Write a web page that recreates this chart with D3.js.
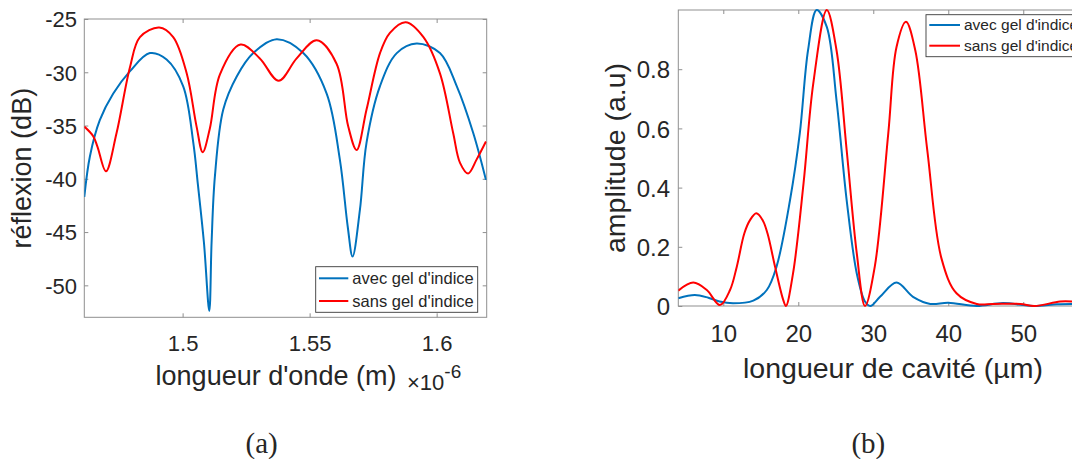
<!DOCTYPE html>
<html><head><meta charset="utf-8">
<script src="https://cdn.jsdelivr.net/npm/d3@7"></script>
<style>
html,body{margin:0;padding:0;background:#fff;}
svg{display:block;}
text{font-family:"Liberation Sans",Arial,sans-serif;fill:#262626;}
</style></head>
<body>
<svg id="chart" width="1072" height="459"></svg>
<script>
// ---------- Panel (a) data : wavelength (×10^-6 m) vs reflexion (dB)
const waveAvec = [1.4613,1.4635,1.4674,1.4727,1.4793,1.4871,1.4937,1.5002,1.5042,1.5060,1.5084,1.5105,1.5114,1.5127,1.5160,1.5213,1.5278,1.5370,1.5475,1.5567,1.5619,1.5650,1.5669,1.5698,1.5724,1.5777,1.5843,1.5921,1.6013,1.6079,1.6144,1.6194];
const reflAvec = [-41.7,-37.9,-34.5,-32.0,-29.9,-28.2,-28.8,-31.3,-36.6,-40.5,-46.0,-52.4,-46.0,-39.8,-33.5,-30.4,-28.2,-26.9,-28.2,-32.0,-38.2,-44.5,-47.3,-42.9,-36.6,-31.3,-28.2,-27.3,-28.2,-31.3,-35.7,-40.1];
const waveSans = [1.4613,1.4648,1.4665,1.4698,1.4740,1.4793,1.4832,1.4908,1.4963,1.5016,1.5055,1.5079,1.5107,1.5147,1.5228,1.5304,1.5378,1.5449,1.5528,1.5606,1.5652,1.5685,1.5724,1.5777,1.5816,1.5878,1.5948,1.6013,1.6065,1.6092,1.6124,1.6157,1.6194];
const reflSans = [-35.1,-36.0,-37.0,-39.3,-35.7,-29.5,-26.7,-25.8,-26.7,-30.1,-35.1,-37.5,-35.3,-30.2,-27.4,-28.7,-30.8,-28.7,-27.0,-29.2,-35.1,-37.3,-33.5,-28.2,-26.3,-25.3,-26.7,-30.1,-35.7,-38.5,-39.5,-38.2,-36.5];
const xTicksA = [1.5,1.55,1.6];
const yTicksA = [-50,-45,-40,-35,-30,-25];

// ---------- Panel (b) data : cavity length (µm) vs amplitude (a.u)
const lenAvec = [4,6.2,8,9.5,11.3,14,15.8,17.1,18.9,20.2,21.3,22.45,23.8,25.1,26.45,27.8,28.9,29.6,30.9,33.1,35.3,37.6,40,43.8,47.3,51.3,54.5,56.5];
const ampAvec = [0.026,0.037,0.028,0.015,0.009,0.018,0.054,0.133,0.358,0.583,0.864,1.0,0.943,0.695,0.358,0.11,0.015,0,0.031,0.079,0.031,0.007,0.011,0,0.010,0,0.006,0.007];
const lenSans = [4,6.0,7.8,9.55,10.9,11.8,12.8,13.56,14.4,15.25,15.9,16.9,18.0,18.35,19.3,20.7,22,23.8,25.1,26.45,27.8,28.9,30.2,32,33.1,34.36,35.6,37.2,39.1,41.1,43.8,46,49.6,51.5,54.9,56.5];
const ampSans = [0.052,0.079,0.054,0.003,0.054,0.133,0.245,0.29,0.313,0.29,0.245,0.133,0.02,0,0.11,0.414,0.752,1.0,0.864,0.527,0.178,0,0.133,0.583,0.875,0.96,0.864,0.527,0.16,0.043,0.007,0.007,0.007,0,0.015,0.015];
const xTicksB = [10,20,30,40,50];
const yTicksB = [0,0.2,0.4,0.6,0.8];

const seriesNames = ["avec gel d'indice","sans gel d'indice"];
const blue = "#0072BD", red = "#FF0000";
const axisCol = "#8f8f8f";

const svg = d3.select("#chart");
svg.append("rect").attr("width",1072).attr("height",459).attr("fill","#fff");

function panel(cfg){
  const g = svg.append("g");
  const x = d3.scaleLinear().domain(cfg.xDom).range([cfg.L,cfg.R]);
  const y = d3.scaleLinear().domain(cfg.yDom).range([cfg.B,cfg.T]);
  const id = "clip"+cfg.name;
  svg.append("clipPath").attr("id",id).append("rect")
    .attr("x",cfg.L).attr("y",cfg.T-2).attr("width",cfg.R-cfg.L).attr("height",cfg.B-cfg.T+4);
  // box
  g.append("rect").attr("x",cfg.L).attr("y",cfg.T).attr("width",cfg.R-cfg.L).attr("height",cfg.B-cfg.T)
    .attr("fill","none").attr("stroke",axisCol).attr("stroke-width",1);
  // axes with inward ticks
  const tl = 4;
  const ax = (axis)=>axis.tickSizeInner(-tl).tickSizeOuter(0).tickPadding(0);
  const bottom = g.append("g").attr("transform",`translate(0,${cfg.B})`)
    .call(ax(d3.axisBottom(x)).tickValues(cfg.xTicks).tickFormat(d=>cfg.xFmt(d)));
  const top = g.append("g").attr("transform",`translate(0,${cfg.T})`)
    .call(ax(d3.axisTop(x)).tickValues(cfg.xTicks).tickFormat(""));
  const left = g.append("g").attr("transform",`translate(${cfg.L},0)`)
    .call(ax(d3.axisLeft(y)).tickValues(cfg.yTicks).tickFormat(d=>cfg.yFmt(d)));
  const right = g.append("g").attr("transform",`translate(${cfg.R},0)`)
    .call(ax(d3.axisRight(y)).tickValues(cfg.yTicks).tickFormat(""));
  [bottom,top,left,right].forEach(a=>{
    a.select(".domain").remove();
    a.selectAll("line").attr("stroke",axisCol);
  });
  bottom.selectAll("text").attr("font-size",cfg.tickFs).attr("fill","#262626")
    .attr("y",cfg.xTickY-cfg.B).attr("dy",0).style("font-family","Liberation Sans, Arial, sans-serif");
  left.selectAll("text").attr("font-size",cfg.tickFs).attr("fill","#262626")
    .attr("x",cfg.yTickX-cfg.L).attr("dy","0.36em").style("font-family","Liberation Sans, Arial, sans-serif");
  // curves
  const line = d3.line().x(d=>x(d[0])).y(d=>y(d[1])).curve(d3.curveCatmullRom.alpha(0.5));
  const plot = g.append("g").attr("clip-path",`url(#${id})`);
  cfg.series.forEach(s=>{
    plot.append("path").datum(d3.zip(s.x,s.y)).attr("d",line)
      .attr("fill","none").attr("stroke",s.color).attr("stroke-width",2).attr("stroke-linejoin","round");
  });
  // legend
  const lg = cfg.legend;
  g.append("rect").attr("x",lg.x).attr("y",lg.y).attr("width",lg.w).attr("height",lg.h)
    .attr("fill","#fff").attr("stroke","#3a3a3a").attr("stroke-width",0.9);
  cfg.series.forEach((s,i)=>{
    const yy = lg.y + lg.row0 + i*lg.step;
    g.append("line").attr("x1",lg.x+lg.l0).attr("x2",lg.x+lg.l1).attr("y1",yy).attr("y2",yy)
      .attr("stroke",s.color).attr("stroke-width",2);
    g.append("text").attr("x",lg.x+lg.tx).attr("y",yy).attr("dy","0.35em")
      .attr("font-size",lg.fs).text(seriesNames[i]);
  });
  // axis labels
  g.append("text").attr("x",cfg.xLabX).attr("y",cfg.xLabY).attr("text-anchor","middle")
    .attr("font-size",cfg.labFs).text(cfg.xLab);
  g.append("text").attr("transform",`translate(${cfg.yLabX},${(cfg.T+cfg.B)/2}) rotate(-90)`)
    .attr("text-anchor","middle").attr("font-size",cfg.labFs).text(cfg.yLab);
  // caption
  g.append("text").attr("x",cfg.capX).attr("y",452.5).attr("text-anchor","middle")
    .attr("font-size",29).style("font-family","'Liberation Serif','Times New Roman',serif").attr("fill","#000")
    .text(cfg.caption);
  return {g,x,y};
}

const pa = panel({
  name:"a", L:84.3, R:486.7, T:19, B:317.3,
  xDom:[1.4613,1.6197], yDom:[-53,-25],
  xTicks:xTicksA, yTicks:yTicksA,
  xFmt:d=>String(d), yFmt:d=>String(d),
  tickFs:22, xTickY:351, yTickX:77,
  series:[{x:waveAvec,y:reflAvec,color:blue},{x:waveSans,y:reflSans,color:red}],
  legend:{x:315.7,y:266.7,w:162,h:45.6,row0:11.6,step:22.7,l0:3.3,l1:32.6,tx:36.6,fs:16.5},
  xLab:"longueur d'onde (m)", xLabX:276, xLabY:385,
  yLab:"réflexion (dB)", yLabX:31, labFs:27,
  capX:261.7, caption:"(a)"
});
// exponent label ×10^-6
const ex = pa.g.append("text").attr("x",407).attr("y",390).attr("font-size",22).attr("fill","#262626");
ex.append("tspan").text("×10");
ex.append("tspan").attr("dy",-12).attr("font-size",19).text("-6");

panel({
  name:"b", L:678.3, R:1108, T:10, B:306,
  xDom:[4,61.3], yDom:[0,1],
  xTicks:xTicksB, yTicks:yTicksB,
  xFmt:d=>String(d), yFmt:d=>String(d),
  tickFs:24, xTickY:341.5, yTickX:670,
  series:[{x:lenAvec,y:ampAvec,color:blue},{x:lenSans,y:ampSans,color:red}],
  legend:{x:926,y:14.7,w:190,h:42,row0:10.3,step:20.7,l0:3.3,l1:34,tx:38,fs:15.5},
  xLab:"longueur de cavité (µm)", xLabX:893, xLabY:377.5,
  yLab:"amplitude (a.u)", yLabX:625, labFs:28.5,
  capX:868.3, caption:"(b)"
});
</script>
</body></html>
